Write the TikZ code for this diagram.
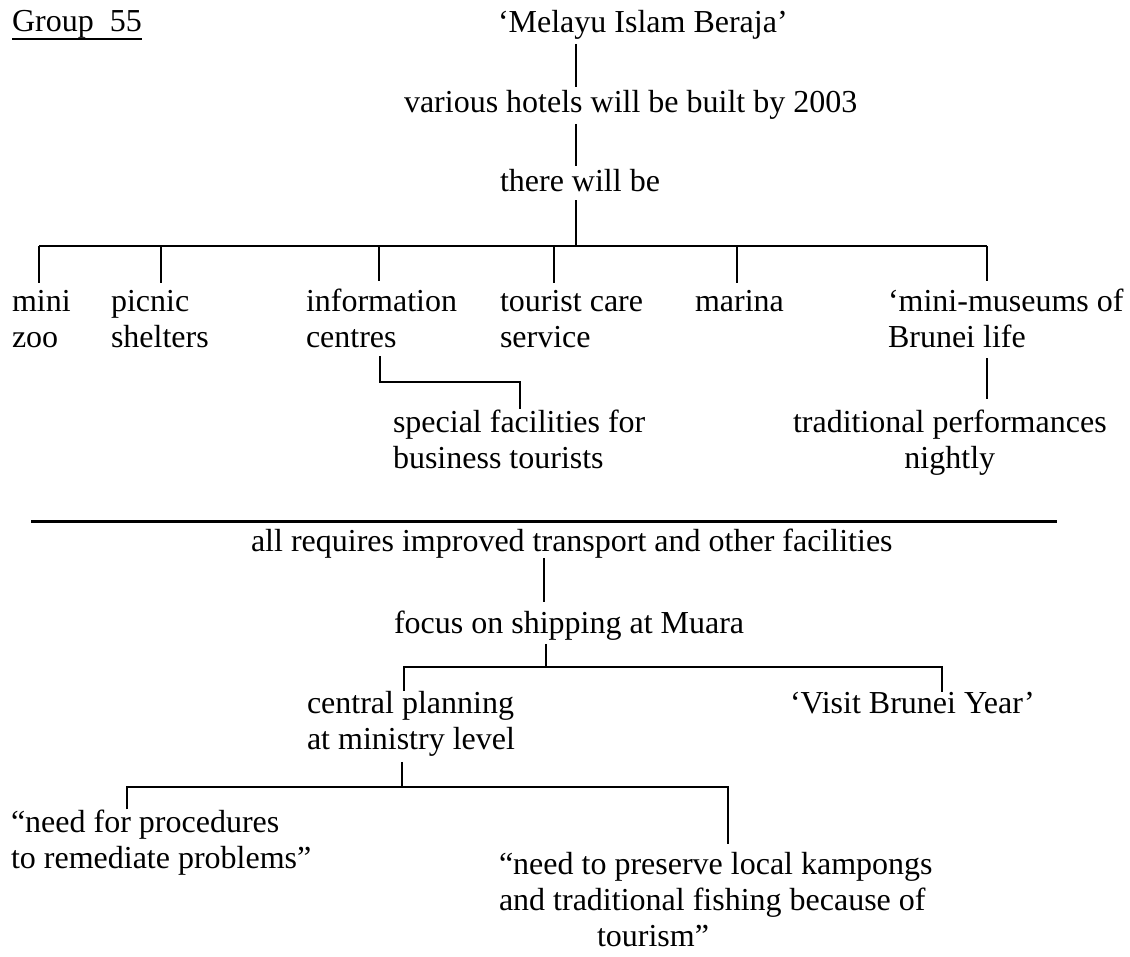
\documentclass[tikz,border=0pt]{standalone}
\usepackage{fontspec}
\setmainfont{Liberation Serif}
\usepackage{tikz}
\usetikzlibrary{calc}
\tikzset{
  gtxt/.style={anchor=base west, inner sep=0pt, outer sep=0pt, align=left,
               font=\fontsize{16}{18}\selectfont},
  gmid/.style={gtxt, align=center},
  gline/.style={draw=black, line width=1.1pt},
  grule/.style={draw=black, line width=1.5pt},
}

\begin{document}
\begin{tikzpicture}[x=0.5pt,y=-0.5pt]
  \useasboundingbox (0,0) rectangle (1130,957);

  % ---- heading and trunk ----
  % (multi-line nodes sit on the baseline of their last line)
  \node[gtxt] (grp) at (12,32) {Group~ 55};
  \draw[line width=1pt] ([yshift=-3.5pt]grp.base west) -- ([yshift=-3.5pt]grp.base east);
  \node[gtxt] (melayu) at (498,33) {‘Melayu Islam Beraja’};
  \node[gtxt] (hotels) at (404,113) {various hotels will be built by 2003};
  \node[gtxt] (willbe) at (500,192) {there will be};
  \coordinate (trunk) at (576,246);
  \draw[gline, shorten <=2pt, shorten >=2pt] (melayu.south -| trunk) -- (hotels.north -| trunk);
  \draw[gline, shorten <=2pt, shorten >=2pt] (hotels.south -| trunk) -- (willbe.north -| trunk);
  \draw[gline, shorten <=4pt] (willbe.south -| trunk) -- (trunk);

  % ---- things there will be ----
  \node[gtxt] (zoo) at (12,348) {mini\\zoo};
  \node[gtxt] (shelters) at (111,348) {picnic\\shelters};
  \node[gtxt] (info) at (306,348) {information\\centres};
  \node[gtxt] (care) at (500,348) {tourist care\\service};
  \node[gtxt] (marina) at (695,312) {marina};
  \node[gtxt] (museums) at (888,348) {‘mini-museums of\\Brunei life};
  \draw[gline] (39,246) -- (987,246);
  \foreach \n/\x in {zoo/39, shelters/161, info/379, care/554, marina/737, museums/987}
    \draw[gline, shorten >=4pt] (\x,246) -- (\n.north -| \x,0);

  % ---- second level ----
  \node[gtxt] (special) at (393,468) {special facilities for\\business tourists};
  \node[gmid] (perf) at (793,468) {traditional performances\\nightly};
  \coordinate (sb) at (380,382);
  \draw[gline, shorten <=4pt] (info.south -| sb) -- (sb) -| (special.north -| 520,0);
  \draw[gline, shorten <=5pt, shorten >=5pt] (museums.south -| 987,0) -- (perf.north -| 987,0);

  % ---- separator ----
  \draw[grule] (31,521) -- (1057,521);

  % ---- requirements ----
  \node[gtxt] (allreq) at (251,551) {all requires improved transport and other facilities};
  \node[gtxt] (focus) at (394,633) {focus on shipping at Muara};
  \coordinate (fb) at (546,667);
  \draw[gline, shorten >=4pt] (allreq.south -| 544,0) -- (focus.north -| 544,0);
  \draw[gline, shorten <=2pt] (focus.south -| fb) -- (fb);

  \node[gtxt] (central) at (307,749) {central planning\\at ministry level};
  \node[gtxt] (visit) at (790,713) {‘Visit Brunei Year’};
  \draw[gline] (central.north -| 404,0) |- (fb) -| (visit.north -| 942,0);

  \node[gtxt] (need1) at (11,868) {“need for procedures\\to remediate problems”};
  \node[gtxt] (need2) at (499,946) {“need to preserve local kampongs\\and traditional fishing because of\\\hspace*{49pt}tourism”};
  \coordinate (cb) at (402,787);
  \draw[gline, shorten <=3pt] (central.south -| cb) -- (cb);
  \draw[gline, shorten >=4pt] (need1.north -| 127,0) |- (cb) -| (need2.north -| 728,0);
\end{tikzpicture}
\end{document}
